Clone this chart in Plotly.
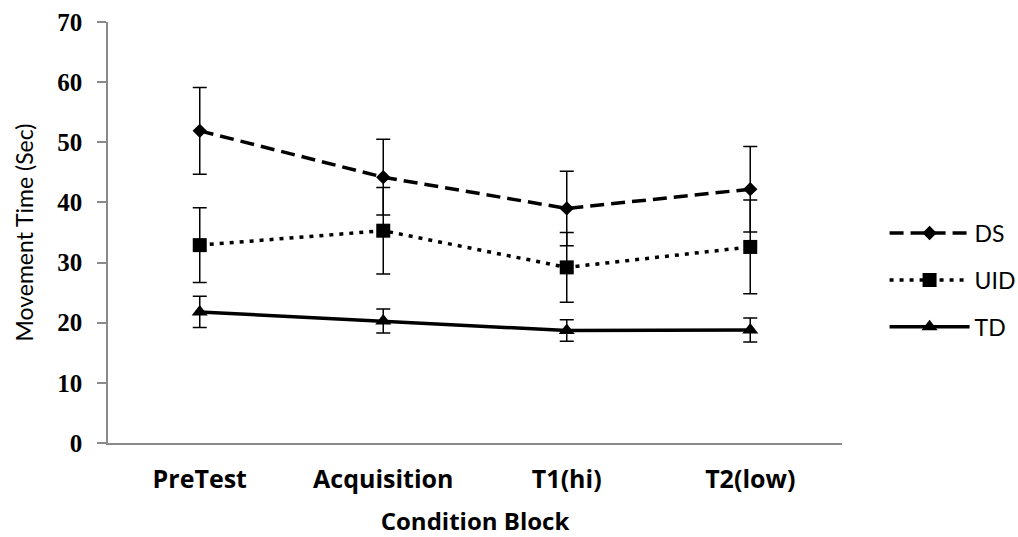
import plotly.graph_objects as go

categories = ["PreTest", "Acquisition", "T1(hi)", "T2(low)"]

ds_mean = [51.9, 44.2, 39.0, 42.2]
ds_err = [7.2, 6.3, 6.2, 7.1]

uid_mean = [32.9, 35.3, 29.2, 32.6]
uid_err = [6.2, 7.2, 5.8, 7.8]

td_mean = [21.8, 20.3, 18.7, 18.8]
td_err = [2.6, 2.0, 1.8, 2.0]

y_ticks = [0, 10, 20, 30, 40, 50, 60, 70]

fig = go.Figure()

def add(name, mean, err, dash, symbol, msize, group):
    fig.add_trace(go.Scatter(
        x=categories, y=mean, name=name, mode="lines+markers",
        legendgroup=group,
        line=dict(color="black", width=3.5, dash=dash),
        marker=dict(symbol=symbol, size=msize, color="black"),
        error_y=dict(type="data", array=err, visible=True, color="black",
                     thickness=1.5, width=7),
    ))

add("DS", ds_mean, ds_err, "14px,7px", "diamond", 11, "a")
add("UID", uid_mean, uid_err, "4px,6px", "square", 14, "b")
add("TD", td_mean, td_err, "solid", "triangle-up", 14, "c")

fig.update_layout(
    width=1018, height=537,
    margin=dict(l=108, r=176, t=22, b=94, autoexpand=False),
    paper_bgcolor="white", plot_bgcolor="white",
    showlegend=True,
    legend=dict(x=1.058, xanchor="left", xref="paper", y=0.387, yanchor="middle",
                font=dict(family="Lato", size=23, color="black"),
                itemwidth=80, tracegroupgap=14, bgcolor="rgba(0,0,0,0)"),
    xaxis=dict(
        type="category", range=[-0.5, 3.5],
        showline=True, linecolor="#8a8a8a", linewidth=1.5,
        ticks="", showgrid=False, zeroline=False,
        tickfont=dict(family="Open Sans", size=25, color="black", weight="bold"),
        ticklabelstandoff=13,
        title=dict(text="Condition Block", standoff=31,
                   font=dict(family="Open Sans", size=24, color="black", weight="bold")),
    ),
    yaxis=dict(
        range=[0, 70], tickvals=y_ticks,
        showline=True, linecolor="#8a8a8a", linewidth=1.5,
        ticks="outside", ticklen=9, tickcolor="#8a8a8a", tickwidth=1.5,
        showgrid=False, zeroline=False,
        tickfont=dict(family="Liberation Serif", size=25, color="black", weight="bold"),
        ticklabelstandoff=10,
        title=dict(text="Movement Time (Sec)", standoff=17,
                   font=dict(family="Lato", size=23, color="black")),
    ),
)

fig.write_html("out.html")
